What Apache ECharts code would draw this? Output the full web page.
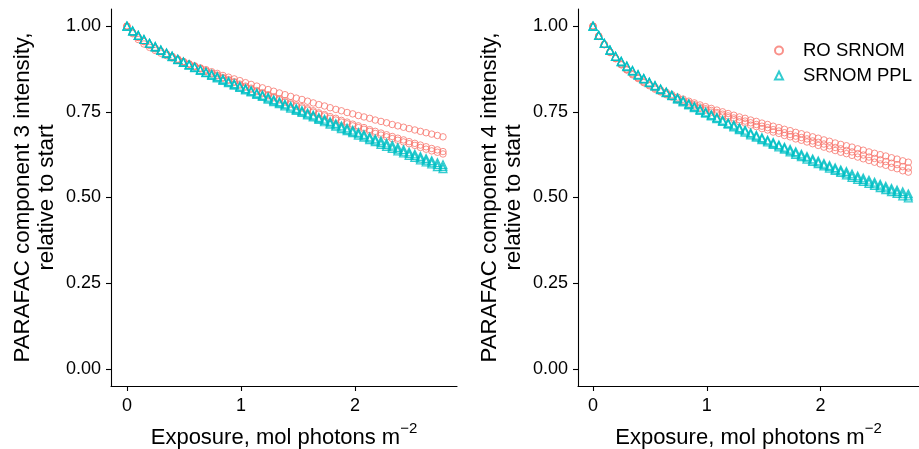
<!DOCTYPE html>
<html>
<head>
<meta charset="utf-8">
<script src="https://cdn.jsdelivr.net/npm/echarts@6/dist/echarts.min.js"></script>
<style>
  html, body { margin: 0; padding: 0; background: #ffffff; }
  #chart { width: 919px; height: 449px; }
</style>
</head>
<body>
<div id="chart"></div>
<script>
// Cumulative photon exposure at each sampling time (mol photons m^-2)
const exposure = [0, 0.050, 0.099, 0.149, 0.198, 0.248, 0.297, 0.347, 0.396, 0.446, 0.495, 0.545, 0.594, 0.644, 0.693, 0.743, 0.792, 0.842, 0.891, 0.941, 0.990, 1.040, 1.089, 1.139, 1.188, 1.238, 1.287, 1.337, 1.386, 1.436, 1.485, 1.535, 1.584, 1.634, 1.683, 1.733, 1.782, 1.832, 1.881, 1.931, 1.980, 2.030, 2.079, 2.129, 2.178, 2.228, 2.277, 2.327, 2.376, 2.426, 2.475, 2.525, 2.574, 2.624, 2.673, 2.723, 2.772];

// PARAFAC component 3, intensity relative to start — RO SRNOM replicates
const c3RO1 = [1.000,0.978,0.961,0.948,0.938,0.929,0.921,0.914,0.907,0.901,0.895,0.889,0.884,0.878,0.873,0.867,0.862,0.856,0.851,0.846,0.841,0.835,0.830,0.825,0.820,0.815,0.810,0.805,0.800,0.795,0.790,0.786,0.781,0.776,0.771,0.767,0.762,0.757,0.753,0.748,0.744,0.739,0.735,0.731,0.726,0.722,0.718,0.713,0.709,0.705,0.701,0.697,0.693,0.689,0.685,0.681,0.677];
const c3RO2 = [1.000,0.981,0.967,0.955,0.945,0.935,0.927,0.919,0.912,0.904,0.897,0.890,0.883,0.877,0.870,0.863,0.857,0.850,0.844,0.838,0.831,0.825,0.819,0.812,0.806,0.800,0.794,0.788,0.782,0.776,0.770,0.765,0.759,0.753,0.747,0.742,0.736,0.731,0.725,0.720,0.714,0.709,0.704,0.698,0.693,0.688,0.683,0.678,0.673,0.668,0.663,0.658,0.653,0.648,0.643,0.639,0.634];
const c3RO3 = [1.000,0.981,0.967,0.955,0.944,0.934,0.926,0.918,0.911,0.903,0.896,0.889,0.881,0.875,0.868,0.861,0.855,0.848,0.842,0.836,0.828,0.822,0.816,0.809,0.803,0.797,0.791,0.785,0.778,0.772,0.766,0.761,0.755,0.749,0.743,0.738,0.731,0.726,0.720,0.715,0.709,0.704,0.699,0.693,0.687,0.682,0.677,0.672,0.667,0.662,0.657,0.652,0.646,0.641,0.636,0.632,0.627];
// PARAFAC component 3 — SRNOM PPL replicates
const c3PPL1 = [1.000,0.986,0.973,0.961,0.950,0.941,0.931,0.922,0.913,0.904,0.896,0.888,0.881,0.873,0.866,0.860,0.853,0.846,0.839,0.832,0.825,0.818,0.812,0.805,0.799,0.793,0.786,0.780,0.773,0.767,0.760,0.754,0.747,0.741,0.734,0.729,0.722,0.716,0.709,0.703,0.697,0.690,0.684,0.677,0.671,0.665,0.659,0.653,0.646,0.640,0.633,0.627,0.620,0.614,0.608,0.602,0.596];
const c3PPL2 = [1.000,0.986,0.973,0.961,0.950,0.940,0.930,0.921,0.912,0.903,0.895,0.887,0.880,0.872,0.865,0.858,0.851,0.844,0.837,0.830,0.823,0.816,0.810,0.803,0.797,0.790,0.783,0.777,0.770,0.764,0.757,0.751,0.744,0.738,0.731,0.725,0.718,0.712,0.705,0.699,0.693,0.686,0.680,0.673,0.667,0.660,0.654,0.648,0.641,0.635,0.628,0.622,0.615,0.609,0.603,0.596,0.590];
const c3PPL3 = [1.000,0.986,0.973,0.961,0.950,0.939,0.929,0.920,0.911,0.902,0.894,0.886,0.879,0.871,0.864,0.856,0.849,0.842,0.835,0.828,0.821,0.814,0.808,0.801,0.795,0.787,0.780,0.774,0.767,0.761,0.754,0.748,0.741,0.735,0.728,0.721,0.714,0.708,0.701,0.695,0.689,0.682,0.676,0.669,0.663,0.655,0.649,0.643,0.636,0.630,0.623,0.617,0.610,0.604,0.598,0.590,0.584];

// PARAFAC component 4 — RO SRNOM replicates
const c4RO1 = [1.000,0.971,0.947,0.925,0.907,0.890,0.875,0.862,0.851,0.840,0.831,0.822,0.814,0.807,0.800,0.793,0.787,0.781,0.776,0.770,0.765,0.760,0.755,0.750,0.745,0.740,0.735,0.731,0.726,0.722,0.717,0.713,0.708,0.704,0.699,0.695,0.690,0.686,0.682,0.677,0.673,0.668,0.664,0.659,0.655,0.651,0.647,0.642,0.638,0.633,0.629,0.625,0.621,0.616,0.612,0.607,0.603];
const c4RO2 = [1.000,0.971,0.946,0.924,0.906,0.888,0.873,0.860,0.849,0.837,0.828,0.819,0.810,0.803,0.796,0.788,0.782,0.776,0.771,0.764,0.759,0.754,0.748,0.743,0.738,0.732,0.727,0.723,0.718,0.713,0.708,0.704,0.698,0.694,0.689,0.684,0.679,0.675,0.671,0.665,0.661,0.656,0.651,0.646,0.642,0.637,0.633,0.628,0.624,0.618,0.614,0.610,0.605,0.600,0.596,0.590,0.586];
const c4RO3 = [1.000,0.970,0.946,0.923,0.905,0.887,0.872,0.858,0.847,0.835,0.826,0.816,0.808,0.800,0.793,0.785,0.779,0.772,0.767,0.760,0.755,0.749,0.744,0.738,0.733,0.727,0.721,0.717,0.711,0.707,0.701,0.697,0.691,0.687,0.681,0.677,0.671,0.667,0.662,0.657,0.652,0.647,0.642,0.637,0.632,0.628,0.623,0.618,0.613,0.608,0.603,0.598,0.594,0.588,0.584,0.578,0.574];
// PARAFAC component 4 — SRNOM PPL replicates
const c4PPL1 = [1.000,0.973,0.950,0.930,0.912,0.898,0.884,0.871,0.859,0.848,0.837,0.827,0.817,0.808,0.799,0.791,0.783,0.774,0.766,0.758,0.750,0.742,0.734,0.726,0.718,0.712,0.704,0.697,0.689,0.682,0.675,0.668,0.661,0.654,0.647,0.641,0.634,0.627,0.620,0.613,0.607,0.600,0.594,0.587,0.581,0.576,0.569,0.563,0.557,0.551,0.545,0.539,0.533,0.527,0.522,0.517,0.511];
const c4PPL2 = [1.000,0.973,0.950,0.930,0.912,0.897,0.883,0.870,0.858,0.847,0.836,0.826,0.816,0.807,0.798,0.789,0.781,0.772,0.764,0.756,0.748,0.740,0.732,0.724,0.716,0.709,0.701,0.694,0.686,0.679,0.672,0.665,0.658,0.651,0.644,0.637,0.630,0.623,0.616,0.609,0.603,0.596,0.590,0.583,0.577,0.571,0.564,0.558,0.552,0.546,0.540,0.534,0.528,0.522,0.517,0.511,0.505];
const c4PPL3 = [1.000,0.973,0.950,0.930,0.912,0.896,0.882,0.869,0.857,0.846,0.835,0.825,0.815,0.806,0.797,0.787,0.779,0.770,0.762,0.754,0.746,0.738,0.730,0.722,0.714,0.706,0.698,0.691,0.683,0.676,0.669,0.662,0.655,0.648,0.641,0.633,0.626,0.619,0.612,0.605,0.599,0.592,0.586,0.579,0.573,0.566,0.559,0.553,0.547,0.541,0.535,0.529,0.523,0.517,0.512,0.505,0.499];

const xTicks = [0, 1, 2];
const yTicks = [0, 0.25, 0.5, 0.75, 1];
const groupNames = ['RO SRNOM', 'SRNOM PPL'];
const yTitles = ['PARAFAC component 3 intensity,\nrelative to start', 'PARAFAC component 4 intensity,\nrelative to start'];
const xTitle = '{t|Exposure, mol photons m}{s|\u22122}';

const RED = '#F8766D';
const CYAN = '#00BFC4';
const FONT = '"Liberation Sans", Arial, Helvetica, sans-serif';

function pts(vals) {
  return exposure.map((x, i) => [x, vals[i]]);
}

function xAxisFor(idx, min, max) {
  return {
    type: 'value', gridIndex: idx, min: min, max: max,
    axisLine: { show: true, onZero: false, lineStyle: { color: '#000', width: 1.1 } },
    axisTick: { show: true, length: 5, customValues: xTicks, lineStyle: { color: '#000', width: 1.1 } },
    axisLabel: { customValues: xTicks, color: '#000', fontSize: 18, fontFamily: FONT, margin: 11,
                 formatter: v => String(v) },
    splitLine: { show: false },
    name: xTitle, nameLocation: 'middle', nameGap: 35,
    nameTextStyle: {
      rich: {
        t: { fontSize: 22, fontFamily: FONT, color: '#000', lineHeight: 34 },
        s: { fontSize: 15, fontFamily: FONT, color: '#000', verticalAlign: 'top', lineHeight: 15 }
      }
    }
  };
}

function yAxisFor(idx, title) {
  return {
    type: 'value', gridIndex: idx, min: -0.05, max: 1.05,
    axisLine: { show: true, onZero: false, lineStyle: { color: '#000', width: 1.1 } },
    axisTick: { show: true, length: 5, customValues: yTicks, lineStyle: { color: '#000', width: 1.1 } },
    axisLabel: { customValues: yTicks, color: '#000', fontSize: 18, fontFamily: FONT, margin: 10,
                 formatter: v => v.toFixed(2) },
    splitLine: { show: false },
    name: title, nameLocation: 'middle', nameGap: 52, nameRotate: 90,
    nameTextStyle: { fontSize: 22.3, lineHeight: 24, fontFamily: FONT, color: '#000', align: 'center' }
  };
}

const series = [];
function addPanel(idx, roSets, pplSets) {
  roSets.forEach(vals => series.push({
    type: 'scatter', name: groupNames[0], xAxisIndex: idx, yAxisIndex: idx,
    symbol: 'circle', symbolSize: 6.5, data: pts(vals), silent: true,
    itemStyle: { color: 'rgba(0,0,0,0)', borderColor: RED, borderWidth: 1 }
  }));
  pplSets.forEach(vals => series.push({
    type: 'scatter', name: groupNames[1], xAxisIndex: idx, yAxisIndex: idx,
    symbol: 'triangle', symbolSize: 8, data: pts(vals), silent: true,
    itemStyle: { color: 'rgba(0,0,0,0)', borderColor: CYAN, borderWidth: 1.2 }
  }));
}
addPanel(0, [c3RO1, c3RO2, c3RO3], [c3PPL1, c3PPL2, c3PPL3]);
addPanel(1, [c4RO1, c4RO2, c4RO3], [c4PPL1, c4PPL2, c4PPL3]);

const chart = echarts.init(document.getElementById('chart'), null, { renderer: 'canvas' });
chart.setOption({
  animation: false,
  backgroundColor: '#ffffff',
  grid: [
    { left: 111, top: 9, width: 346, height: 377, containLabel: false, outerBoundsMode: 'none' },
    { left: 578, top: 9, width: 341, height: 377, containLabel: false, outerBoundsMode: 'none' }
  ],
  xAxis: [xAxisFor(0, -0.14, 2.895), xAxisFor(1, -0.132, 2.866)],
  yAxis: [yAxisFor(0, yTitles[0]), yAxisFor(1, yTitles[1])],
  legend: {
    data: [{ name: groupNames[0], icon: 'circle' }, { name: groupNames[1], icon: 'triangle' }],
    orient: 'vertical', left: 769, top: 36,
    itemWidth: 8, itemHeight: 8, itemGap: 6,
    textStyle: { fontSize: 18.5, fontFamily: FONT, color: '#000', padding: [0, 0, 0, 15] },
    selectedMode: false
  },
  series: series
});
</script>
</body>
</html>
